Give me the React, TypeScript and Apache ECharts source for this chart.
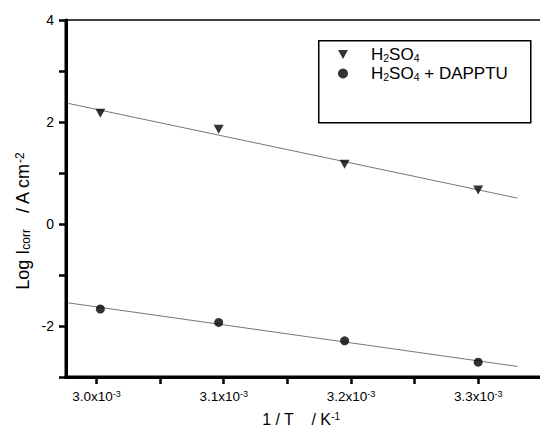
import React, { useEffect, useRef } from "react";
import * as echarts from "echarts";

// 1/T in units of 10^-3 K^-1
const xH2SO4 = [3.003, 3.096, 3.195, 3.3];
const yH2SO4 = [2.17, 1.86, 1.17, 0.667];
const xDapptu = [3.003, 3.096, 3.195, 3.3];
const yDapptu = [-1.667, -1.93, -2.29, -2.71];

const xLabelValues = [3.0, 3.1, 3.2, 3.3];
const xTickValues = [3.0, 3.05, 3.1, 3.15, 3.2, 3.25, 3.3];
const yLabelValues = [-2, 0, 2, 4];
const yTickValues = [-3, -2, -1, 0, 1, 2, 3, 4];

const fitXStart = 2.976;
const fitXEnd = 3.331;

const xMin = 2.976;
const xMax = 3.3486;
const yMin = -3;
const yMax = 4;

const FONT = "'Liberation Sans', Arial, Helvetica, sans-serif";

function fitLine(xs: number[], ys: number[]): number[][] {
  const n = xs.length;
  const mx = xs.reduce((a, b) => a + b, 0) / n;
  const my = ys.reduce((a, b) => a + b, 0) / n;
  let sxy = 0;
  let sxx = 0;
  for (let i = 0; i < n; i++) {
    sxy += (xs[i] - mx) * (ys[i] - my);
    sxx += (xs[i] - mx) * (xs[i] - mx);
  }
  const k = sxy / sxx;
  const b = my - k * mx;
  return [
    [fitXStart, k * fitXStart + b],
    [fitXEnd, k * fitXEnd + b],
  ];
}

const zip = (xs: number[], ys: number[]) => xs.map((x, i) => [x, ys[i]]);

export default function App() {
  const ref = useRef<HTMLDivElement>(null);
  useEffect(() => {
    if (!ref.current) return;
    const chart = echarts.init(ref.current, undefined, { renderer: "svg" });
    const option: any = {
      animation: false,
      backgroundColor: "#fff",
      grid: { left: 66, top: 20, width: 474, height: 357 },
      xAxis: {
        type: "value",
        min: xMin,
        max: xMax,
        axisLine: { show: true, onZero: false, lineStyle: { color: "#000", width: 3 } },
        axisTick: { show: true, customValues: xTickValues, length: 7, lineStyle: { color: "#000", width: 2.5 } },
        axisLabel: {
          customValues: xLabelValues,
          margin: 12,
          color: "#000",
          fontFamily: FONT,
          formatter: (v: number) => `{a|${v.toFixed(1)}x10}{s|-3}`,
          rich: {
            a: { fontSize: 13.5, fontFamily: FONT, color: "#000" },
            s: { fontSize: 9, fontFamily: FONT, color: "#000", verticalAlign: "top" },
          },
        },
        splitLine: { show: false },
      },
      yAxis: {
        type: "value",
        min: yMin,
        max: yMax,
        axisLine: { show: true, onZero: false, lineStyle: { color: "#000", width: 3 } },
        axisTick: { show: true, customValues: yTickValues, length: 7, lineStyle: { color: "#000", width: 2.5 } },
        axisLabel: { customValues: yLabelValues, margin: 12, fontSize: 14, color: "#000", fontFamily: FONT },
        splitLine: { show: false },
      },
      legend: {
        data: ["H2SO4", "H2SO4 + DAPPTU"],
        orient: "vertical",
        left: 338,
        top: 46,
        padding: 0,
        itemWidth: 10,
        itemHeight: 10,
        itemGap: 2,
        textStyle: {
          color: "#000",
          fontFamily: FONT,
          rich: {
            g: { width: 18 },
            a: { fontSize: 17, fontFamily: FONT, color: "#000" },
            b: { fontSize: 10.5, fontFamily: FONT, color: "#000", verticalAlign: "bottom" },
          },
        },
        formatter: (name: string) =>
          name === "H2SO4"
            ? "{g| }{a|H}{b|2}{a|SO}{b|4}"
            : "{g| }{a|H}{b|2}{a|SO}{b|4}{a| + DAPPTU}",
      },
      graphic: [
        {
          type: "line",
          shape: { x1: 66, y1: 20, x2: 540, y2: 20 },
          style: { stroke: "#000", lineWidth: 1.5 },
        },
        {
          type: "line",
          shape: { x1: 66, y1: 19, x2: 66, y2: 378.5 },
          style: { stroke: "#000", lineWidth: 3 },
          z: 10,
        },
        {
          type: "line",
          shape: { x1: 64.5, y1: 377, x2: 540, y2: 377 },
          style: { stroke: "#000", lineWidth: 3 },
          z: 10,
        },
        {
          type: "rect",
          left: 318,
          top: 40,
          shape: { width: 212, height: 82 },
          style: { fill: "#fff", stroke: "#000", lineWidth: 1.5 },
          z: 0,
        },
        {
          type: "text",
          x: 23,
          y: 221,
          rotation: Math.PI / 2,
          style: {
            text: "{a|Log I}{b|corr}{a|   / A cm}{s|-2}",
            align: "center",
            verticalAlign: "middle",
            fill: "#000",
            rich: {
              a: { fontSize: 18, fontFamily: FONT, fill: "#000" },
              b: { fontSize: 12, fontFamily: FONT, fill: "#000", verticalAlign: "bottom" },
              s: { fontSize: 12, fontFamily: FONT, fill: "#000", verticalAlign: "top" },
            },
          },
        },
        {
          type: "text",
          x: 301,
          y: 411,
          style: {
            text: "{a|1 / T    / K}{s|-1}",
            align: "center",
            verticalAlign: "top",
            fill: "#000",
            rich: {
              a: { fontSize: 16, fontFamily: FONT, fill: "#000" },
              s: { fontSize: 10, fontFamily: FONT, fill: "#000", verticalAlign: "top" },
            },
          },
        },
      ],
      series: [
        {
          name: "H2SO4 fit",
          type: "line",
          data: fitLine(xH2SO4, yH2SO4),
          symbol: "none",
          silent: true,
          lineStyle: { color: "#777", width: 1 },
          z: 1,
        },
        {
          name: "H2SO4 + DAPPTU fit",
          type: "line",
          data: fitLine(xDapptu, yDapptu),
          symbol: "none",
          silent: true,
          lineStyle: { color: "#777", width: 1 },
          z: 1,
        },
        {
          name: "H2SO4",
          type: "scatter",
          data: zip(xH2SO4, yH2SO4),
          symbol: "path://M0,0L10,0L5,9Z",
          symbolSize: [10, 9],
          itemStyle: { color: "#000" },
          z: 3,
        },
        {
          name: "H2SO4 + DAPPTU",
          type: "scatter",
          data: zip(xDapptu, yDapptu),
          symbol: "circle",
          symbolSize: 9,
          itemStyle: { color: "#000" },
          z: 3,
        },
      ],
    };
    chart.setOption(option);
    return () => chart.dispose();
  }, []);
  return (
    <div
      ref={ref}
      style={{ position: "fixed", left: 0, top: 0, width: 540, height: 436, background: "#fff" }}
    />
  );
}
